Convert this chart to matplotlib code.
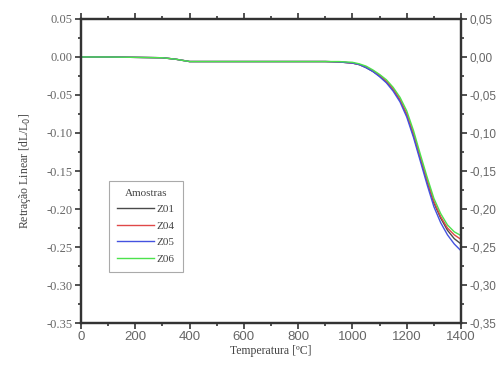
import matplotlib
matplotlib.use("Agg")
import matplotlib.pyplot as plt
from matplotlib.ticker import MultipleLocator, FuncFormatter

# Dilatometry: linear shrinkage vs temperature
temperature = [0, 100, 200, 300, 350, 400, 450, 500, 600, 700, 800, 900, 950,
               1000, 1025, 1050, 1075, 1100, 1125, 1150, 1175, 1200, 1225,
               1250, 1275, 1300, 1325, 1350, 1375, 1400]

z01 = [0.000, 0.000, -0.0005, -0.001, -0.003, -0.006, -0.006, -0.006, -0.006,
       -0.006, -0.006, -0.006, -0.0065, -0.008, -0.010, -0.014, -0.019,
       -0.025, -0.033, -0.043, -0.057, -0.076, -0.103, -0.134, -0.164,
       -0.192, -0.212, -0.228, -0.239, -0.246]
z04 = [0.000, 0.000, -0.0005, -0.001, -0.003, -0.006, -0.006, -0.006, -0.006,
       -0.006, -0.006, -0.006, -0.0065, -0.008, -0.010, -0.013, -0.018,
       -0.024, -0.032, -0.042, -0.056, -0.075, -0.101, -0.132, -0.162,
       -0.190, -0.210, -0.225, -0.234, -0.240]
z05 = [0.000, 0.000, -0.0005, -0.001, -0.003, -0.006, -0.006, -0.006, -0.006,
       -0.006, -0.006, -0.006, -0.0065, -0.008, -0.010, -0.014, -0.019,
       -0.026, -0.034, -0.045, -0.059, -0.079, -0.106, -0.137, -0.168,
       -0.197, -0.218, -0.234, -0.246, -0.255]
z06 = [0.000, 0.000, -0.0005, -0.001, -0.003, -0.006, -0.006, -0.006, -0.006,
       -0.006, -0.006, -0.006, -0.006, -0.007, -0.009, -0.012, -0.017,
       -0.023, -0.030, -0.040, -0.053, -0.071, -0.097, -0.128, -0.158,
       -0.186, -0.206, -0.221, -0.230, -0.235]

series = {"Z01": z01, "Z04": z04, "Z05": z05, "Z06": z06}
colors = {"Z01": "#4a4a4a", "Z04": "#e04848", "Z05": "#4452e0", "Z06": "#4ce24c"}

x_ticks = [0, 200, 400, 600, 800, 1000, 1200, 1400]
y_ticks = [0.05, 0.00, -0.05, -0.10, -0.15, -0.20, -0.25, -0.30, -0.35]

serif = ["Liberation Serif", "DejaVu Serif"]
sans = ["Liberation Sans", "DejaVu Sans"]
txt = "#444444"
light = "#666666"

fig = plt.figure(figsize=(5.02, 3.65), dpi=100)
ax = fig.add_axes([0.1614, 0.115, 0.7570, 0.833])

for name, vals in series.items():
    ax.plot(temperature, vals, color=colors[name], lw=1.0, label=name)

ax.set_xlim(0, 1400)
ax.set_ylim(-0.35, 0.05)
ax.set_xticks(x_ticks)
ax.set_yticks(y_ticks)
ax.xaxis.set_minor_locator(MultipleLocator(100))
ax.yaxis.set_minor_locator(MultipleLocator(0.025))

for s in ax.spines.values():
    s.set_linewidth(1.6)
    s.set_color("#333333")

ax.tick_params(axis="both", which="major", direction="out", length=4,
               width=1.2, color="#333333")
ax.tick_params(axis="both", which="minor", direction="out", length=2.5,
               width=1.2, color="#333333")
ax.tick_params(axis="x", which="both", top=True)
ax.tick_params(axis="x", labelsize=9.5, labelcolor=light, pad=2)
ax.tick_params(axis="y", labelsize=9, labelcolor=light, pad=2)
for lab in ax.get_xticklabels():
    lab.set_family(sans)
for lab in ax.get_yticklabels():
    lab.set_family(serif)
ax.yaxis.set_major_formatter(FuncFormatter(lambda v, p: f"{v:.2f}"))

# Right-hand axis with comma decimals
ax2 = ax.twinx()
ax2.set_ylim(-0.35, 0.05)
ax2.set_yticks(y_ticks)
ax2.yaxis.set_minor_locator(MultipleLocator(0.025))
ax2.yaxis.set_major_formatter(
    FuncFormatter(lambda v, p: f"{v:.2f}".replace(".", ",").replace("-0,00", "0,00")))
ax2.tick_params(axis="y", which="major", direction="out", length=4, width=1.2,
                color="#333333", labelsize=8.5, labelcolor=light, pad=2)
ax2.tick_params(axis="y", which="minor", direction="out", length=2.5,
                width=1.2, color="#333333")
for lab in ax2.get_yticklabels():
    lab.set_family(sans)
for s in ax2.spines.values():
    s.set_linewidth(1.6)
    s.set_color("#333333")

ax.set_xlabel("Temperatura [ºC]", family=serif, fontsize=8.5, color=txt,
              labelpad=1)
ax.set_ylabel("Retração Linear [dL/L$_0$]", family=serif, fontsize=8.5,
              color=txt, labelpad=10)

leg = ax.legend(title="Amostras", loc="lower left",
                bbox_to_anchor=(0.074, 0.168), fancybox=False, framealpha=1,
                edgecolor="#aaaaaa", prop={"family": serif, "size": 8},
                handlelength=3.3, handletextpad=0.2, borderpad=0.75,
                labelspacing=0.6, borderaxespad=0)
leg.get_title().set_family(serif)
leg.get_title().set_fontsize(8)
leg.get_title().set_color(txt)
for t in leg.get_texts():
    t.set_color(txt)
leg.get_frame().set_linewidth(0.8)

fig.savefig("out.png", dpi=100)
